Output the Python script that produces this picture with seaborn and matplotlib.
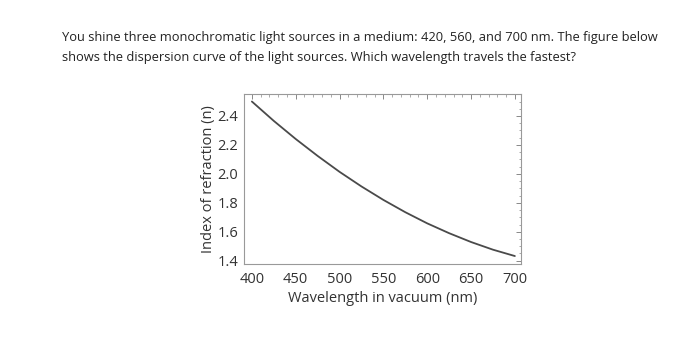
import matplotlib
matplotlib.use("Agg")
import matplotlib.pyplot as plt
import seaborn as sns
import pandas as pd
from matplotlib.ticker import MultipleLocator

wavelength = [400, 425, 450, 475, 500, 525, 550, 575, 600, 625, 650, 675, 700]
index_n = [2.500, 2.366, 2.241, 2.124, 2.014, 1.913, 1.820, 1.735, 1.658, 1.590, 1.529, 1.476, 1.432]
x_ticks = [400, 450, 500, 550, 600, 650, 700]
y_ticks = [1.4, 1.6, 1.8, 2.0, 2.2, 2.4]
question = ("You shine three monochromatic light sources in a medium: 420, 560, and 700 nm. The figure below\n"
            "shows the dispersion curve of the light sources. Which wavelength travels the fastest?")

sns.set_style("white")
plt.rcParams['font.family'] = ['Open Sans', 'DejaVu Sans']

df = pd.DataFrame({"wl": wavelength, "n": index_n})

fig = plt.figure(figsize=(7, 3.37), dpi=100)
fig.text(62/700, 1 - 31/337, question, ha="left", va="top", fontsize=9.3,
         color="#222222", linespacing=1.75)

ax = fig.add_axes([244/700, 1 - 264/337, (521-244)/700, (264-94)/337])
sns.lineplot(data=df, x="wl", y="n", ax=ax, color="#4a4a4a", linewidth=1.3)
ax.set_xlim(391, 707)
ax.set_ylim(1.377, 2.552)
ax.set_xticks(x_ticks)
ax.set_xticklabels([str(v) for v in x_ticks])
ax.set_yticks(y_ticks)
ax.set_yticklabels([f"{v:.1f}" for v in y_ticks])
ax.xaxis.set_minor_locator(MultipleLocator(10))
ax.yaxis.set_minor_locator(MultipleLocator(0.05))
ax.tick_params(which="both", direction="in", top=True, right=True, colors="#888888",
               labelcolor="#333333", labelsize=10.5)
ax.tick_params(which="major", length=3.5, width=0.7)
ax.tick_params(which="minor", length=1.8, width=0.5)
ax.tick_params(axis="x", which="major", pad=6)
ax.tick_params(axis="y", which="major", pad=4)
for s in ax.spines.values():
    s.set_color("#999999")
    s.set_linewidth(0.8)
ax.set_xlabel("Wavelength in vacuum (nm)", fontsize=10.5, color="#333333", labelpad=3)
ax.set_ylabel("Index of refraction (n)", fontsize=10.5, color="#333333", labelpad=1)

fig.savefig("out.png", dpi=100)
